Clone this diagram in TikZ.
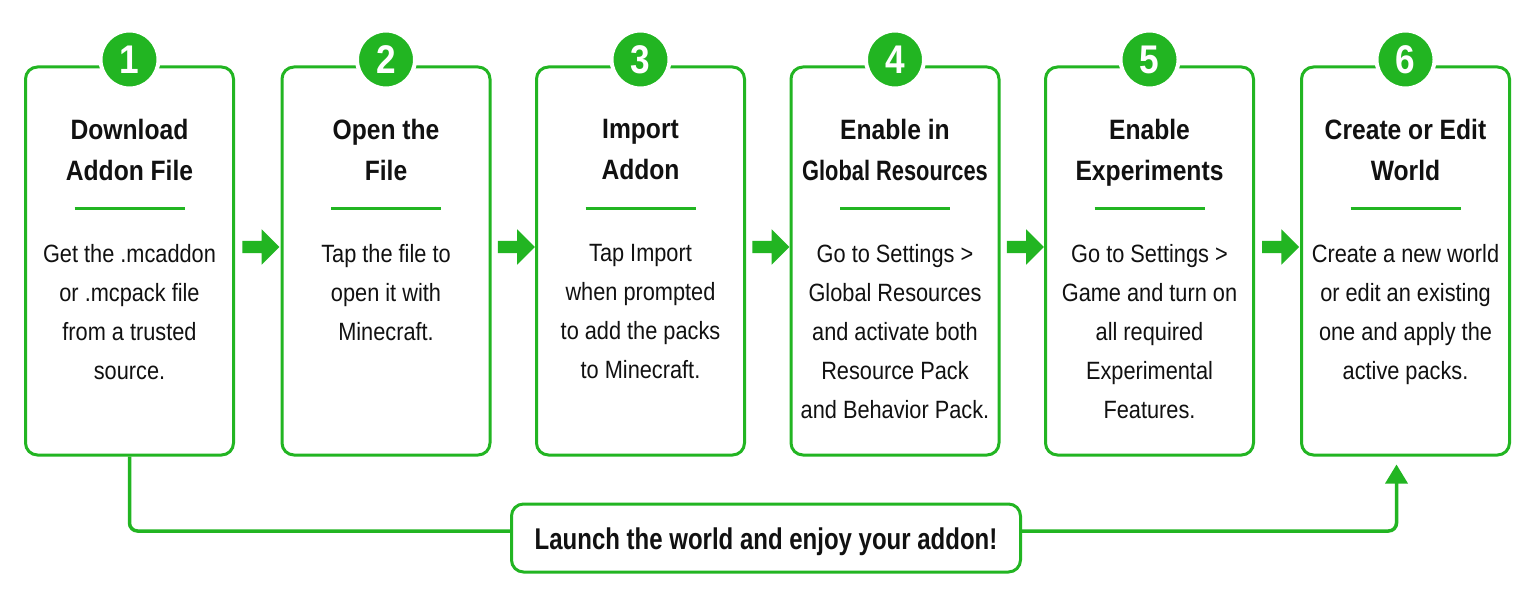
\documentclass[tikz,border=0pt]{standalone}
\usepackage{fontspec}
\setmainfont{Liberation Sans}
\newfontfamily\bodyfont[FakeStretch=0.87]{Liberation Sans}
\newfontfamily\headfont[FakeStretch=0.88]{Liberation Sans Bold}
\newfontfamily\headnarrow[FakeStretch=0.78]{Liberation Sans Bold}
\newfontfamily\launchfont[FakeStretch=0.8]{Liberation Sans Bold}
\usetikzlibrary{shapes.arrows,calc,arrows.meta}
\definecolor{grn}{RGB}{34,181,34}
\definecolor{ink}{RGB}{17,17,17}
\tikzset{
  stepbox/.style={draw=grn, line width=3pt, rounded corners=12pt, fill=white,
    minimum width=208pt, minimum height=388pt, inner sep=0pt},
  numdot/.style={circle, fill=grn, draw=white, line width=4pt, minimum size=58pt,
    inner sep=0pt, text=white, font=\headfont\fontsize{40}{40}\selectfont},
  titletext/.style={anchor=north, inner sep=0pt, align=center, text=ink,
    font=\headfont\fontsize{28}{41}\selectfont},
  bodytext/.style={anchor=north, inner sep=0pt, align=center, text=ink,
    font=\bodyfont\fontsize{25}{39}\selectfont},
  sepline/.style={draw=grn, line width=3pt},
  flowarrow/.style={single arrow, fill=grn, draw=none, minimum height=37pt,
    inner sep=6pt, single arrow head extend=11.5pt, single arrow head indent=0pt},
  conn/.style={draw=grn, line width=3.5pt, rounded corners=8pt},
  launchbox/.style={draw=grn, line width=3pt, rounded corners=12pt, fill=white,
    minimum width=509pt, minimum height=68pt, inner sep=0pt, text=ink,
    text height=22pt, text depth=0pt,
    font=\launchfont\fontsize{30}{30}\selectfont}
}
\begin{document}
\begin{tikzpicture}[x=1pt,y=-1pt]
\useasboundingbox[fill=white] (0,0) rectangle (1536,602);
% boxes
\foreach \i/\cx in {1/129.5,2/386,3/640.5,4/895,5/1149.5,6/1405.5}{
  \node[stepbox] (b\i) at (\cx,261) {};
}
% numbers
\foreach \i in {1,...,6}{
  \node[numdot] (n\i) at ($(b\i.north)+(0,-6)$) {\i};
  \draw[sepline] ($(b\i.north)+(-55,143)$) -- ++(110,0);
}
% titles
\node[titletext] (t1) at ($(b1.north)+(0,54)$) {Download\\Addon File};
\node[titletext] (t2) at ($(b2.north)+(0,54)$) {Open the\\File};
\node[titletext] (t3) at ($(b3.north)+(0,54)$) {Import\\Addon};
\node[titletext] (t4) at ($(b4.north)+(0,54)$) {Enable in\\{\headnarrow Global Resources}};
\node[titletext] (t5) at ($(b5.north)+(0,54)$) {Enable\\Experiments};
\node[titletext] (t6) at ($(b6.north)+(0,54)$) {Create or Edit\\World};
% bodies
\node[bodytext] (d1) at ($(b1.north)+(0,179)$) {Get the .mcaddon\\or .mcpack file\\from a trusted\\source.};
\node[bodytext] (d2) at ($(b2.north)+(0,179)$) {Tap the file to\\open it with\\Minecraft.};
\node[bodytext] (d3) at ($(b3.north)+(0,179)$) {Tap Import\\when prompted\\to add the packs\\to Minecraft.};
\node[bodytext] (d4) at ($(b4.north)+(0,179)$) {Go to Settings >\\Global Resources\\and activate both\\Resource Pack\\and Behavior Pack.};
\node[bodytext] (d5) at ($(b5.north)+(0,179)$) {Go to Settings >\\Game and turn on\\all required\\Experimental\\Features.};
\node[bodytext] (d6) at ($(b6.north)+(0,179)$) {Create a new world\\or edit an existing\\one and apply the\\active packs.};
% flow arrows
\foreach \a/\b in {1/2,2/3,3/4,4/5,5/6}{
  \node[flowarrow] (f\a) at ($($(b\a.east)!0.5!(b\b.west)$)+(0,-14)$) {};
}
% launch
\node[launchbox] (launch) at (766,538) {Launch the world and enjoy your addon!};
\coordinate (lw) at ($(launch.west)+(0,-7)$);
\coordinate (le) at ($(launch.east)+(0,-7)$);
\coordinate (tip6) at ($(b6.south)+(-9,8)$);
\draw[conn] (b1.south) |- (lw);
\draw[conn, -{Triangle[width=22pt,length=19pt]}] (le) -| (tip6);
\end{tikzpicture}
\end{document}
